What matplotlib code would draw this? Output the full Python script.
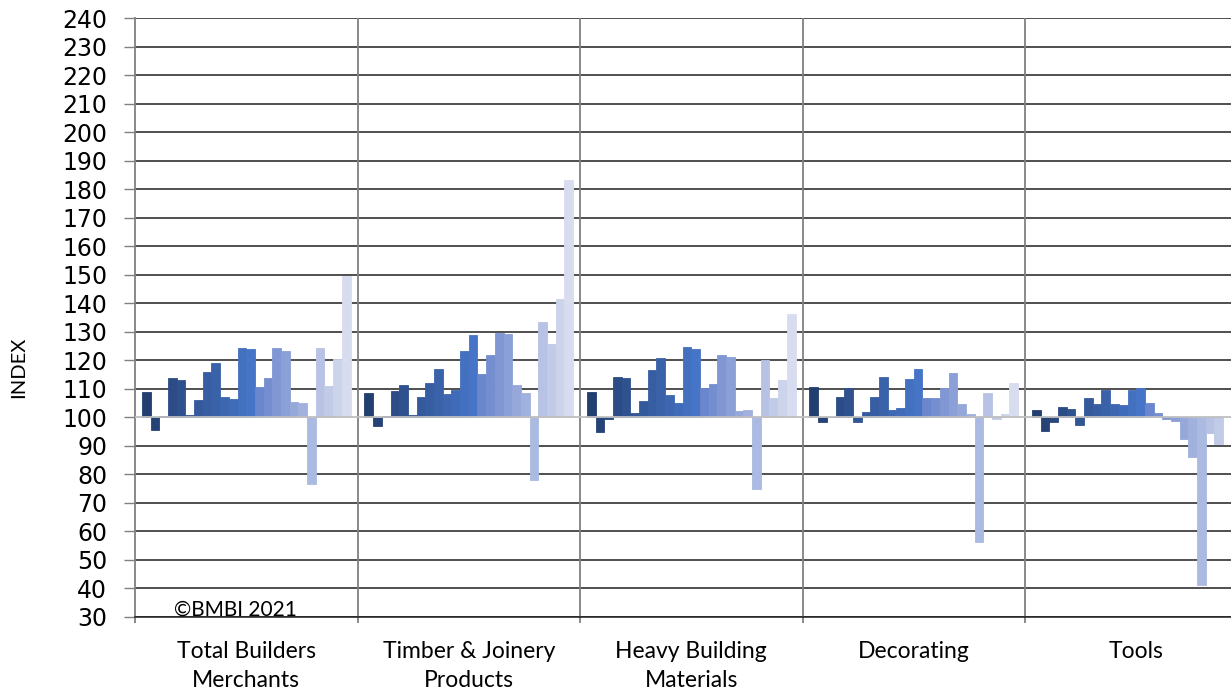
import numpy as np
import matplotlib
matplotlib.use("Agg")
import matplotlib.pyplot as plt
from matplotlib.colors import LinearSegmentedColormap, to_hex

# categories and index values (24 monthly bars per category, base = 100)
categories = ["Total Builders\nMerchants", "Timber & Joinery\nProducts",
              "Heavy Building\nMaterials", "Decorating", "Tools"]

total_bm = [108.8, 95.6, 100.4, 113.8, 113.2, 100.7, 106.1, 116.0, 119.2, 107.0,
            106.4, 124.4, 124.1, 110.6, 113.8, 124.4, 123.4, 105.3, 104.9, 76.6,
            124.4, 111.0, 120.6, 149.6]
timber = [108.4, 97.1, 100.4, 109.2, 111.3, 100.8, 107.1, 112.0, 117.1, 108.2,
          109.7, 123.4, 128.8, 115.3, 122.0, 129.5, 129.1, 111.3, 108.5, 78.1,
          133.3, 125.6, 141.5, 183.2]
heavy = [108.9, 94.7, 99.5, 114.3, 113.9, 101.4, 105.7, 116.7, 120.7, 107.8,
         105.0, 124.6, 123.9, 110.2, 111.7, 122.0, 121.1, 102.1, 102.6, 75.0,
         120.0, 106.9, 113.2, 136.3]
decorating = [110.8, 98.4, 100.0, 107.3, 110.3, 98.4, 101.9, 107.3, 114.3, 102.6,
              103.3, 113.3, 116.8, 106.8, 106.8, 110.3, 115.7, 104.7, 101.1, 56.3,
              108.7, 99.4, 101.1, 112.2]
tools = [102.7, 95.2, 98.2, 103.6, 102.9, 97.4, 106.9, 104.8, 109.7, 104.8,
         104.4, 109.7, 110.2, 105.1, 101.6, 99.3, 98.6, 92.4, 86.1, 41.1,
         94.6, 90.6]

series_by_cat = [total_bm, timber, heavy, decorating, tools]
n_bars = 24
base = 100

yticks = list(range(30, 241, 10))


def palette(n):
    # dark shade -> accent blue -> light tint, like the Excel monochrome palette
    dark = LinearSegmentedColormap.from_list("d", ["#233F70", "#4674C6"])
    light = LinearSegmentedColormap.from_list("l", ["#6A86CC", "#D7DCEF"])
    cols = [to_hex(dark(i / 12)) for i in range(13)]
    cols += [to_hex(light(i / 10)) for i in range(11)]
    return cols[:n]


def main():
    fig = plt.figure(figsize=(12.31, 6.93), dpi=100)
    ax = fig.add_axes([135 / 1231, 1 - 617 / 693, 1 - 135 / 1231, (617 - 18) / 693])

    cols = palette(n_bars)
    width = 1 / 25.6
    offset = (1 - n_bars * width) / 2

    for c, vals in enumerate(series_by_cat):
        for i, v in enumerate(vals):
            x = c + offset + i * width
            ax.bar(x, v - base, bottom=base, width=width, align="edge",
                   color=cols[i], edgecolor=cols[i], linewidth=0.6, zorder=2)

    # horizontal gridlines
    for y in yticks:
        if y == base:
            continue
        ax.axhline(y, color="#1f1f1f", linewidth=1.1, zorder=1)
    ax.axhline(base, color="#BFBFBF", linewidth=1.3, zorder=3)

    ax.set_ylim(30, 240)
    ax.set_xlim(0, (1231 - 135) / 222.5)

    ax.set_yticks(yticks)
    ax.set_yticklabels([str(y) for y in yticks], fontsize=17, family="DejaVu Sans")
    ax.tick_params(axis="y", length=8, width=1, color="#808080", pad=12)

    ax.set_xticks(range(5))
    ax.set_xticklabels([])
    ax.tick_params(axis="x", which="major", length=4, width=1.3, color="#808080")
    ax.set_xticks([c + 0.5 for c in range(5)], minor=True)
    ax.set_xticklabels(categories, minor=True, fontsize=16.5, family="Lato",
                       linespacing=1.5)
    ax.tick_params(axis="x", which="minor", length=0, pad=17)
    for c in range(1, 5):
        ax.axvline(c, color="#808080", linewidth=1.3, zorder=1)

    for s in ["top", "right"]:
        ax.spines[s].set_visible(False)
    ax.spines["left"].set_color("#808080")
    ax.spines["left"].set_linewidth(1.3)
    ax.spines["bottom"].set_color("#1f1f1f")
    ax.spines["bottom"].set_linewidth(1.1)

    ax.set_ylabel("INDEX", fontsize=14.5, family="Lato")
    ax.yaxis.set_label_coords(-0.098, 0.416)
    ax.text(0.175, 30.6, "\u00a9BMBI 2021", fontsize=15, family="Lato",
            va="baseline", ha="left", zorder=4)

    fig.savefig("out.png", dpi=100)


if __name__ == "__main__":
    main()
